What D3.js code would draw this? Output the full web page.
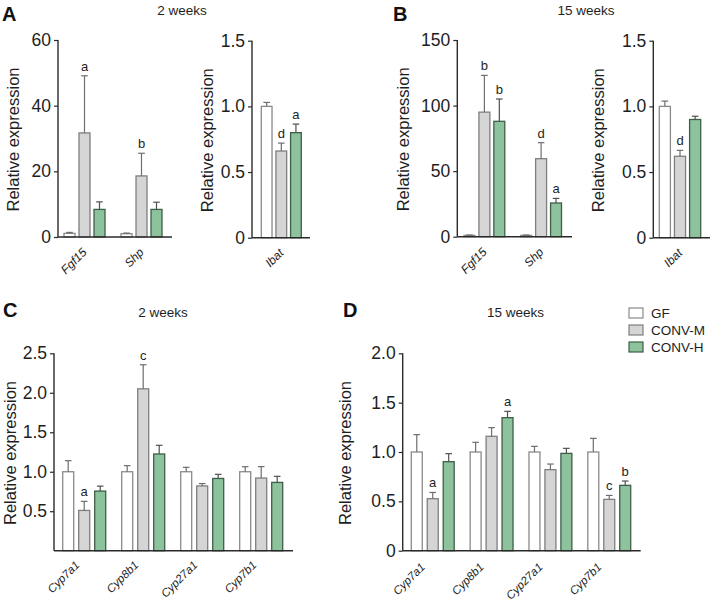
<!DOCTYPE html>
<html><head><meta charset="utf-8">
<script src="https://cdn.jsdelivr.net/npm/d3@7"></script>
<style>body{margin:0;background:#fff} svg{display:block;font-family:"Liberation Sans",Arial,sans-serif}</style>
</head><body><svg id="chart" width="712" height="602"></svg>
<script>
// ---------- DATA ----------
const seriesNames = ["GF", "CONV-M", "CONV-H"];

// Panel A, 2 weeks: Fgf15 / Shp   (rows = series, cols = genes)
const genesA1 = ["Fgf15", "Shp"];
const meanA1 = [[1.1, 1.0], [31.7, 18.6], [8.4, 8.4]];
const errA1  = [[0.3, 0.2], [17.4, 6.9], [2.3, 2.2]];
const sigA1  = [["", ""], ["a", "b"], ["", ""]];
const ticksA1 = [0, 20, 40, 60];

// Panel A, 2 weeks: Ibat
const genesA2 = ["Ibat"];
const meanA2 = [[1.0], [0.66], [0.80]];
const errA2  = [[0.03], [0.06], [0.065]];
const sigA2  = [[""], ["d"], ["a"]];
const ticksA2 = [0, 0.5, 1.0, 1.5];

// Panel B, 15 weeks: Fgf15 / Shp
const genesB1 = ["Fgf15", "Shp"];
const meanB1 = [[1.0, 1.0], [95.0, 59.5], [88.0, 25.7]];
const errB1  = [[0.3, 0.3], [28.0, 12.2], [17.0, 3.5]];
const sigB1  = [["", ""], ["b", "d"], ["b", "a"]];
const ticksB1 = [0, 50, 100, 150];

// Panel B, 15 weeks: Ibat
const genesB2 = ["Ibat"];
const meanB2 = [[1.0], [0.62], [0.90]];
const errB2  = [[0.04], [0.045], [0.025]];
const sigB2  = [[""], ["d"], [""]];
const ticksB2 = [0, 0.5, 1.0, 1.5];

// Panel C, 2 weeks
const genesC = ["Cyp7a1", "Cyp8b1", "Cyp27a1", "Cyp7b1"];
const meanC = [[1.0, 1.0, 1.0, 1.0], [0.51, 2.05, 0.82, 0.92], [0.755, 1.225, 0.915, 0.865]];
const errC  = [[0.14, 0.077, 0.056, 0.064], [0.115, 0.305, 0.03, 0.145], [0.063, 0.11, 0.052, 0.077]];
const sigC  = [["", "", "", ""], ["a", "c", "", ""], ["", "", "", ""]];
const ticksC = [0.5, 1.0, 1.5, 2.0, 2.5];

// Panel D, 15 weeks
const genesD = ["Cyp7a1", "Cyp8b1", "Cyp27a1", "Cyp7b1"];
const meanD = [[1.0, 1.0, 1.0, 1.0], [0.527, 1.159, 0.821, 0.52], [0.902, 1.348, 0.986, 0.662]];
const errD  = [[0.176, 0.098, 0.057, 0.138], [0.063, 0.088, 0.057, 0.04], [0.081, 0.064, 0.051, 0.044]];
const sigD  = [["", "", "", ""], ["a", "", "", "c"], ["", "a", "", "b"]];
const ticksD = [0, 0.5, 1.0, 1.5, 2.0];

// ---------- STYLE ----------
const fills   = ["#ffffff", "#d5d5d5", "#8cc29c"];
const strokes = ["#8a8a8a", "#7f7f7f", "#3f5e48"];
const errCols = ["#6e6e6e", "#6e6e6e", "#505050"];
const axisCol = "#2a2a2a";
const textCol = "#1e1e1e";

const svg = d3.select("#chart");

function fmt1(d) { return d === 0 ? "0" : d3.format(".1f")(d); }
function fmtInt(d) { return d3.format("d")(d); }

function drawPanel(p) {
  const g = svg.append("g");
  const y = d3.scaleLinear().domain([0, p.yMax]).range([p.yBot, p.yTop]);
  const xg = d3.scaleBand().domain(p.genes).range([p.gx0, p.gx1]).paddingInner(p.padG).paddingOuter(0);
  const xs = d3.scaleBand().domain(seriesNames).range([0, xg.bandwidth()]).paddingInner(p.padS).paddingOuter(0);

  // y axis
  const ya = d3.axisLeft(y).tickValues(p.ticks).tickSize(4).tickPadding(3).tickFormat(p.fmt);
  const yg = g.append("g").attr("transform", `translate(${p.ax0},0)`).call(ya);
  yg.select(".domain").attr("d", `M0,${p.yBot}V${p.yTop}`).attr("stroke", axisCol).attr("stroke-width", 1.4);
  yg.selectAll(".tick line").attr("stroke", axisCol).attr("stroke-width", 1.2);
  yg.selectAll(".tick text").attr("fill", textCol).style("font-size", "17.5px")
    .style("font-family", '"Liberation Sans",Arial,sans-serif');

  // bars
  seriesNames.forEach((s, si) => {
    p.genes.forEach((gene, gi) => {
      const v = p.mean[si][gi], e = p.err[si][gi];
      const x0 = xg(gene) + xs(s), w = xs.bandwidth();
      g.append("rect").attr("x", x0).attr("y", y(v)).attr("width", w).attr("height", y(0) - y(v))
        .attr("fill", fills[si]).attr("stroke", strokes[si]).attr("stroke-width", 1.3);
      const cx = x0 + w / 2;
      g.append("line").attr("x1", cx).attr("x2", cx).attr("y1", y(v)).attr("y2", y(v + e))
        .attr("stroke", errCols[si]).attr("stroke-width", 1.2);
      g.append("line").attr("x1", cx - 3.3).attr("x2", cx + 3.3).attr("y1", y(v + e)).attr("y2", y(v + e))
        .attr("stroke", errCols[si]).attr("stroke-width", 1.2);
      const lab = p.sig[si][gi];
      if (lab) {
        g.append("text").attr("x", cx).attr("y", y(v + e) - 5).attr("text-anchor", "middle")
          .attr("fill", textCol).style("font-size", "13px").text(lab);
      }
    });
  });

  // x axis
  g.append("line").attr("x1", p.ax0).attr("x2", p.ax1).attr("y1", p.yBot).attr("y2", p.yBot)
    .attr("stroke", axisCol).attr("stroke-width", 1.4);
  p.genes.forEach(gene => {
    const cx = xg(gene) + xg.bandwidth() / 2 + p.lx;
    g.append("text").attr("transform", `translate(${cx},${p.yBot + p.ly}) rotate(-45)`)
      .attr("text-anchor", "end").attr("fill", textCol).style("font-size", p.lfs).style("font-style", "italic")
      .text(gene);
  });

  // y label
  g.append("text").attr("transform", `translate(${p.ylx},${(p.yTop + p.yBot) / 2 + 1}) rotate(-90)`)
    .attr("text-anchor", "middle").attr("fill", textCol).style("font-size", "16.5px").text("Relative expression");
}

drawPanel({genes: genesA1, mean: meanA1, err: errA1, sig: sigA1, ticks: ticksA1, fmt: fmtInt, yMax: 60,
  yTop: 40, yBot: 237, ax0: 58, ax1: 172, gx0: 64, gx1: 162, padG: 16 / 57, padS: 4 / 15, lx: 3, ly: 16, lfs: "12px", ylx: 19});
drawPanel({genes: genesA2, mean: meanA2, err: errA2, sig: sigA2, ticks: ticksA2, fmt: fmt1, yMax: 1.5,
  yTop: 40.7, yBot: 237.7, ax0: 252, ax1: 310, gx0: 261.3, gx1: 301.3, padG: 0, padS: 4 / 15, lx: 3, ly: 16, lfs: "12px", ylx: 213});
drawPanel({genes: genesB1, mean: meanB1, err: errB1, sig: sigB1, ticks: ticksB1, fmt: fmtInt, yMax: 150,
  yTop: 40, yBot: 236.7, ax0: 457.3, ax1: 572, gx0: 464, gx1: 561.5, padG: 16 / 57, padS: 4 / 15, lx: 3, ly: 16, lfs: "12px", ylx: 409});
drawPanel({genes: genesB2, mean: meanB2, err: errB2, sig: sigB2, ticks: ticksB2, fmt: fmt1, yMax: 1.5,
  yTop: 40.7, yBot: 237.7, ax0: 653.3, ax1: 710, gx0: 659.3, gx1: 700.7, padG: 0, padS: 4 / 15, lx: 3, ly: 16, lfs: "12px", ylx: 604});
drawPanel({genes: genesC, mean: meanC, err: errC, sig: sigC, ticks: ticksC, fmt: fmt1, yMax: 2.5,
  yTop: 353.3, yBot: 550.7, ax0: 54, ax1: 293, gx0: 62.7, gx1: 282.7, padG: 16 / 59, padS: 5 / 16, lx: -4, ly: 15, lfs: "11.5px", ylx: 16});
drawPanel({genes: genesD, mean: meanD, err: errD, sig: sigD, ticks: ticksD, fmt: fmt1, yMax: 2.0,
  yTop: 353.3, yBot: 550.7, ax0: 402.7, ax1: 640.7, gx0: 411.3, gx1: 630.7, padG: 16 / 59, padS: 5 / 16, lx: -7, ly: 17, lfs: "11.5px", ylx: 351});

// titles & panel letters
const titles = [["2 weeks", 182, 15], ["15 weeks", 586, 15], ["2 weeks", 163, 317], ["15 weeks", 515.5, 317]];
titles.forEach(t => svg.append("text").attr("x", t[1]).attr("y", t[2]).attr("text-anchor", "middle")
  .attr("fill", textCol).style("font-size", "13.5px").text(t[0]));
const letters = [["A", 2, 21], ["B", 393, 21], ["C", 3, 317], ["D", 343, 317]];
letters.forEach(t => svg.append("text").attr("x", t[1]).attr("y", t[2]).attr("fill", "#111")
  .style("font-size", "20px").style("font-weight", "bold").text(t[0]));

// legend
const leg = svg.append("g");
seriesNames.forEach((s, i) => {
  const cy = 313 + i * 17;
  leg.append("rect").attr("x", 629).attr("y", cy - 5).attr("width", 14).attr("height", 10)
    .attr("fill", fills[i]).attr("stroke", strokes[i]).attr("stroke-width", 1.2);
  leg.append("text").attr("x", 651).attr("y", cy + 5).attr("fill", textCol).style("font-size", "13.5px").text(s);
});
</script></body></html>
